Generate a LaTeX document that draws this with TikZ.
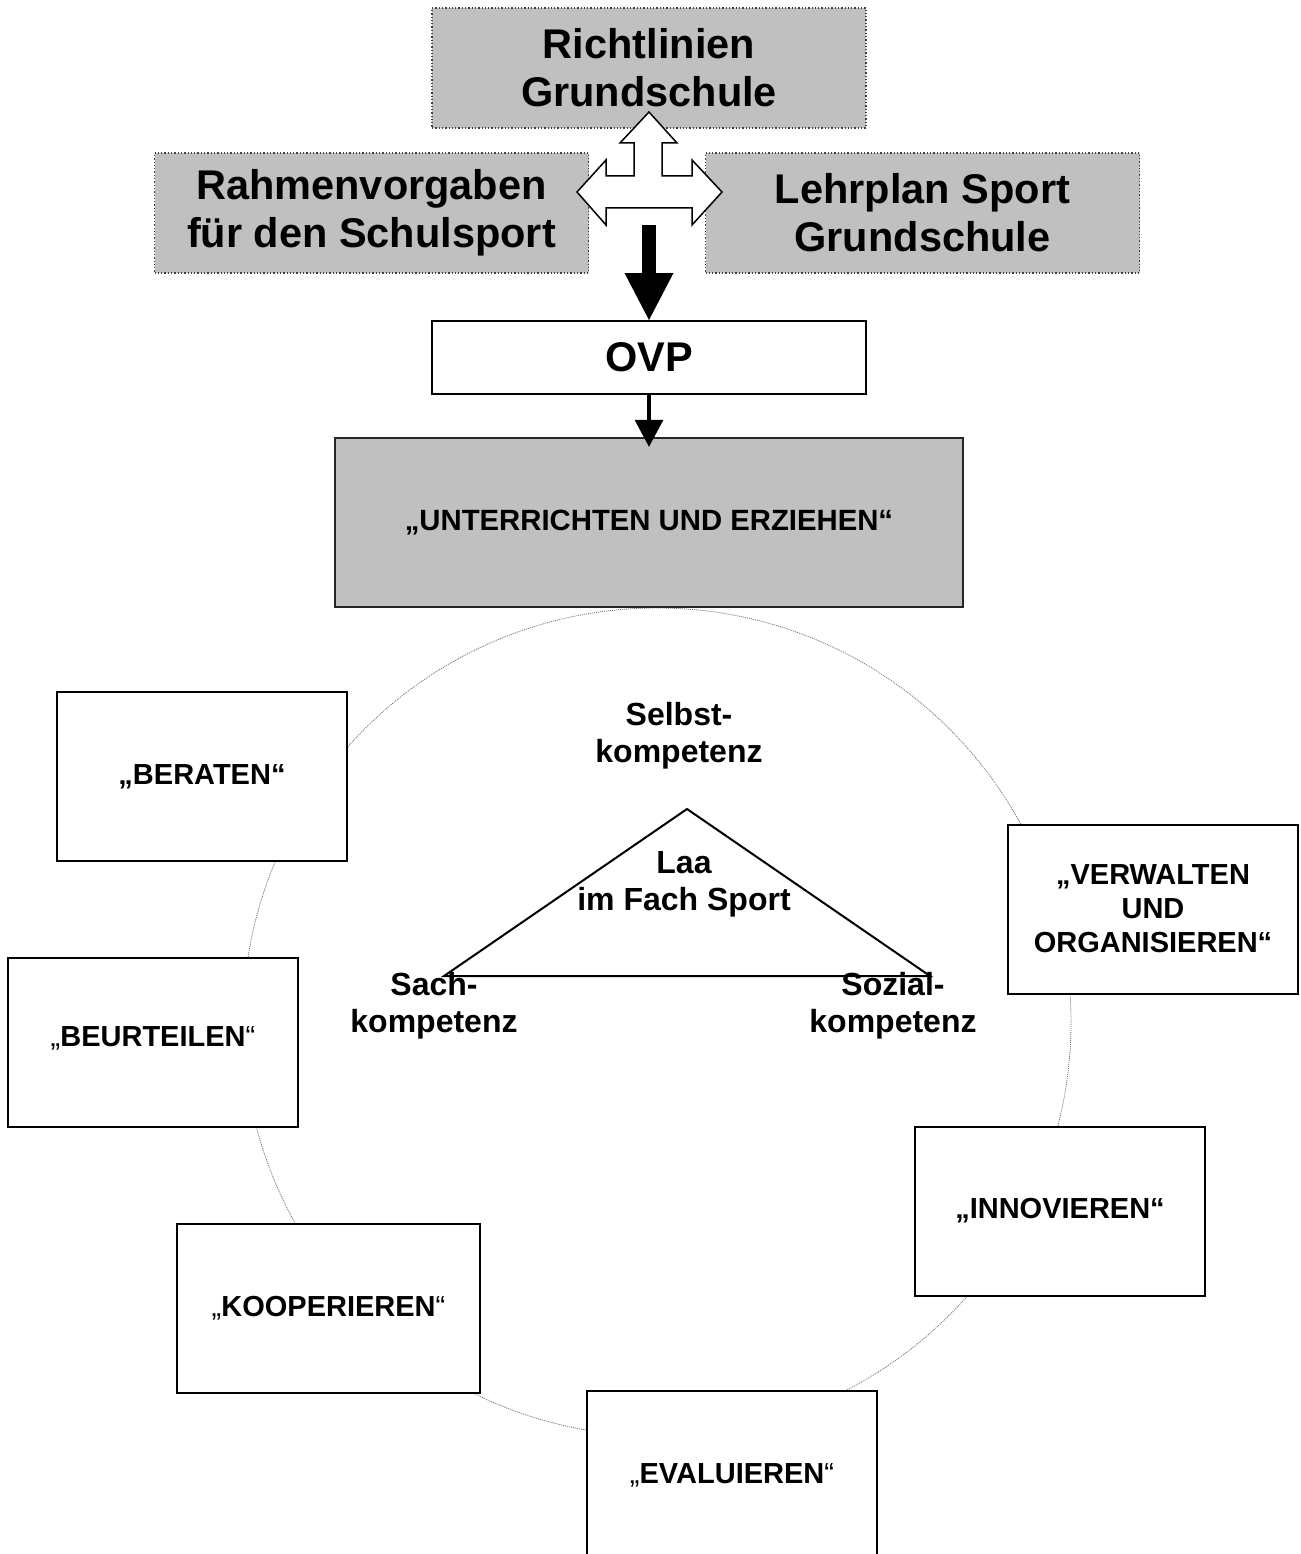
\documentclass[tikz,border=0pt]{standalone}
\usepackage{fontspec}
\setmainfont{Liberation Sans}
\usepackage{xcolor}
\usetikzlibrary{arrows.meta}
\definecolor{boxgray}{HTML}{C0C0C0}
\tikzset{
  topbox/.style={draw=black!75,dotted,line width=1.3pt,fill=boxgray,minimum width=434pt,minimum height=120pt,align=center,font=\bfseries\fontsize{41.5}{48}\selectfont},
  ovpbox/.style={draw,line width=2pt,fill=white,minimum width=434pt,minimum height=73pt,font=\bfseries\fontsize{41.5}{48}\selectfont},
  uebox/.style={draw=black!85,line width=2.5pt,fill=boxgray,minimum width=628pt,minimum height=169pt,font=\bfseries\fontsize{29.3}{34}\selectfont},
  taskbox/.style={draw,line width=2pt,fill=white,minimum width=290pt,minimum height=169pt,align=center,font=\bfseries\fontsize{29}{34}\selectfont},
  comp/.style={align=center,font=\bfseries\fontsize{32}{37}\selectfont},
  circline/.style={draw=black!55,line width=0.8pt,dash pattern=on 1pt off 1pt},
}
\begin{document}
\begin{tikzpicture}[x=1pt,y=-1pt]
\useasboundingbox (0,0) rectangle (1300,1554);
\begin{scope}[line join=miter]

  \draw [circline] (657,1022) circle [radius=414];

  \node [topbox] (richt)  at (649,68)    {Richtlinien\\Grundschule};
  \node [topbox] (rahmen) at (371.5,213) {Rahmenvorgaben\\für den Schulsport};
  \node [topbox] (lehr)   at (922.5,213) {Lehrplan Sport\\Grundschule};

  \draw [fill=white,line width=1.5pt] (649,112) -- (677,143) -- (662,143) -- (662,176) -- (692,176) -- (692,160)
    -- (722,192) -- (692,225) -- (692,208) -- (606,208) -- (606,225) -- (577,192) -- (606,160)
    -- (606,176) -- (634,176) -- (634,143) -- (620,143) -- cycle;

  \node [ovpbox] (ovp) at (649,357.5) {OVP};
  \node [uebox]  (ue)  at (649,522.5) {„UNTERRICHTEN UND ERZIEHEN“};

  \coordinate (hub) at (649,225);
  \draw [line width=14pt,-{Triangle[width=49pt,length=47pt,line width=0pt]}] (hub) -- (ovp.north);
  \draw [line width=4pt,-{Triangle[width=29pt,length=27pt,line width=0pt]}] (ovp.south) -- ([yshift=-10pt]ue.north);

  \node [taskbox] (beraten)    at (202,776.5)   {„BERATEN“};
  \node [taskbox] (beurteilen) at (153,1042.5)  {\raisebox{11pt}{{\mdseries„}BEURTEILEN{\mdseries“}}};
  \node [taskbox,minimum width=303pt] (kooperieren) at (328.5,1308) {{\mdseries„}KOOPERIEREN{\mdseries“}};
  \node [taskbox] (evaluieren) at (732,1475.5)  {{\mdseries„}EVALUIEREN{\mdseries“}};
  \node [taskbox] (innovieren) at (1060,1211.5) {\raisebox{7pt}{„INNOVIEREN“}};
  \node [taskbox] (verwalten)  at (1153,909)    {„VERWALTEN\\UND\\ORGANISIEREN“};

  \draw [line width=2pt] (444,976) -- (687,809) -- (930,976) -- cycle;

  \node [comp] (selbst) at (679,736)  {Selbst-\\kompetenz};
  \node [comp] (laa)    at (684,884)  {Laa\\im Fach Sport};
  \node [comp] (sach)   at (434,1006) {Sach-\\kompetenz};
  \node [comp] (sozial) at (893,1006) {Sozial-\\kompetenz};

\end{scope}
\end{tikzpicture}
\end{document}
